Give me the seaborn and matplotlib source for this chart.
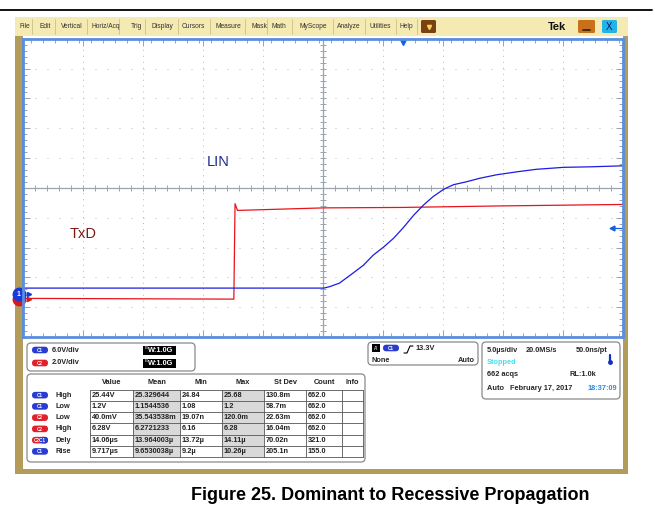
import numpy as np
import pandas as pd
import matplotlib
matplotlib.use('Agg')
import matplotlib.pyplot as plt
from matplotlib.patches import Rectangle, FancyBboxPatch
from matplotlib.ticker import FixedLocator, MultipleLocator
import seaborn as sns

# LIN bus (ch1) and TxD (ch2), time in us relative to the trigger, volts
lin_time = [-31.6, -6.6, -6.1, -5.3, -4.4, -3.3, -2.5, -1.6, -0.8, 0.0, 0.9, 1.7,
            2.5, 3.4, 4.2, 5.3, 6.4, 7.8, 9.5, 11.1, 13.4, 15.6, 18.3]
lin_volt = [1.2, 1.2, 1.5, 2.2, 3.8, 5.8, 7.8, 9.5, 11.2, 13.3, 15.9, 17.9,
            19.6, 21.1, 22.0, 22.6, 23.3, 24.0, 24.6, 25.1, 25.5, 25.6, 25.8]
txd_time = [-31.6, -14.1, -14.0, -13.8, -6.6, 0.0, 8.0, 18.3]
txd_volt = [0.05, 0.0, 6.4, 5.95, 6.12, 6.15, 6.25, 6.35]

# scope settings
ch1_scale = 6.0      # V/div
ch2_scale = 2.0
ch1_offset = -3.56   # div
ch2_offset = -3.73
time_div = 5.0       # us/div
trig_pos = 6.67      # us right of screen centre
trig_level = 13.3    # V

# measurement table
meas_src = ['C1', 'C1', 'C2', 'C2', 'C2C1', 'C1']
meas_name = ['High', 'Low', 'Low', 'High', 'Dely', 'Rise']
meas_value = ['25.44V', '1.2V', '40.0mV', '6.28V', '14.06µs', '9.717µs']
meas_mean = ['25.329644', '1.1544536', '35.543538m', '6.2721233', '13.964003µ', '9.6530038µ']
meas_min = ['24.84', '1.08', '19.07n', '6.16', '13.72µ', '9.2µ']
meas_max = ['25.68', '1.2', '120.0m', '6.28', '14.11µ', '10.26µ']
meas_std = ['130.8m', '58.7m', '22.63m', '16.04m', '70.02n', '205.1n']
meas_count = ['662.0', '662.0', '662.0', '662.0', '321.0', '155.0']
headers = ['Value', 'Mean', 'Min', 'Max', 'St Dev', 'Count', 'Info']

menu_items = ['File', 'Edit', 'Vertical', 'Horiz/Acq', 'Trig', 'Display', 'Cursors',
              'Measure', 'Mask', 'Math', 'MyScope', 'Analyze', 'Utilities', 'Help']

sns.set_style('white')
plt.rcParams['font.family'] = ['Liberation Sans', 'DejaVu Sans']
plt.rcParams['lines.scale_dashes'] = False

fig = plt.figure(figsize=(6.55, 5.19), dpi=100)

# background canvas in pixel units
bg = fig.add_axes([0, 0, 1, 1])
bg.set_xlim(0, 655)
bg.set_ylim(519, 0)
bg.axis('off')

BLUE = '#2a3cd0'
RED = '#e0202a'

bg.plot([0, 652], [10, 10], color='black', lw=1.3)
bg.add_patch(Rectangle((15, 17), 613, 457, fc='#b39b5a', ec='none'))
bg.add_patch(Rectangle((23, 36), 600, 433, fc='white', ec='none'))
bg.add_patch(Rectangle((15, 17), 613, 19, fc='#f4eab2', ec='none'))

# menu bar
menu_x = [19, 40, 61, 92, 131, 151, 182, 215, 251, 272, 299, 337, 369, 400]
menu_sep = [32, 55, 87, 119, 145, 178, 210, 245, 267, 292, 333, 365, 396, 417]
for lab, x in zip(menu_items, menu_x):
    bg.text(x, 27, lab, fontsize=4.8, color='#333333', va='center', ha='left')
for x in menu_sep:
    bg.plot([x, x], [19, 34], color='#cbbf8c', lw=0.6)
bg.add_patch(FancyBboxPatch((421, 20), 15, 13, boxstyle='round,pad=0,rounding_size=1.5',
                            fc='#7a4010', ec='none'))
bg.plot(428.5, 27, marker='v', color='#f4d060', ms=3)
bg.text(557, 27, 'Tek', fontsize=8, fontweight='bold', color='#111111', ha='center', va='center')
bg.add_patch(FancyBboxPatch((578, 20), 17, 13, boxstyle='round,pad=0,rounding_size=1.5',
                            fc='#c8701a', ec='none'))
bg.plot([583, 590], [30, 30], color='#3a1c00', lw=1.2)
bg.add_patch(FancyBboxPatch((602, 20), 15, 13, boxstyle='round,pad=0,rounding_size=1.5',
                            fc='#22b4e8', ec='none'))
bg.text(609.5, 27.5, 'X', fontsize=7, color='#0a1a60', ha='center', va='center')


def badge(x, y, text, color, color2=None):
    bg.add_patch(FancyBboxPatch((x - 8, y - 3.3), 16, 6.6,
                                boxstyle='round,pad=0,rounding_size=3.3', fc=color, ec='none'))
    if color2 is not None:
        bg.add_patch(FancyBboxPatch((x, y - 3.3), 8, 6.6,
                                    boxstyle='round,pad=0,rounding_size=3.3', fc=color2, ec='none'))
        bg.add_patch(Rectangle((x, y - 3.3), 3, 6.6, fc=color2, ec='none'))
    bg.text(x, y + 0.2, text, fontsize=3.3, color='white', fontweight='bold',
            ha='center', va='center')


def box(x0, y0, x1, y1):
    bg.add_patch(FancyBboxPatch((x0, y0), x1 - x0, y1 - y0,
                                boxstyle='round,pad=0,rounding_size=4',
                                fc='white', ec='#8a8a8a', lw=0.9))


tsize = 5.3
# channel box
box(27, 343, 195, 371)
for y, lab, col, sc in [(350, 'C1', BLUE, ch1_scale), (363, 'C2', RED, ch2_scale)]:
    badge(40, y, lab, col)
    bg.text(52, y, f'{sc:.1f}V/div', fontsize=tsize, fontweight='bold', va='center')
    bg.add_patch(Rectangle((143, y - 4.5), 33, 9, fc='black', ec='none'))
    bg.text(145, y - 1.8, 'B', fontsize=3.2, color='white', va='center')
    bg.text(148, y + 0.5, 'W:1.0G', fontsize=tsize, color='white', fontweight='bold', va='center')

# measurement table
box(27, 374, 365, 462)
col_edges = [90, 133, 180, 222, 264, 306, 342, 363]
row_edges = [389.5, 400.8, 412, 423.3, 434.5, 445.8, 457]
for i, h in enumerate(headers):
    bg.text((col_edges[i] + col_edges[i + 1]) / 2, 383, h, fontsize=tsize,
            fontweight='bold', ha='center', va='center', color='#222222')
for c in (1, 3):
    bg.add_patch(Rectangle((col_edges[c], row_edges[0]), col_edges[c + 1] - col_edges[c],
                           row_edges[-1] - row_edges[0], fc='#d9d9d9', ec='none'))
for x in col_edges:
    bg.plot([x, x], [row_edges[0], row_edges[-1]], color='#555555', lw=0.6)
for y in row_edges:
    bg.plot([col_edges[0], col_edges[-1]], [y, y], color='#555555', lw=0.6)
cols = [meas_value, meas_mean, meas_min, meas_max, meas_std, meas_count]
for r in range(6):
    yc = (row_edges[r] + row_edges[r + 1]) / 2
    src = meas_src[r]
    if src == 'C2C1':
        badge(40, yc, 'C2C1', RED, BLUE)
    else:
        badge(40, yc, src, BLUE if src == 'C1' else RED)
    bg.text(55, yc, meas_name[r], fontsize=tsize, fontweight='bold', va='center')
    for c, vals in enumerate(cols):
        bg.text(col_edges[c] + 1.5, yc, vals[r], fontsize=tsize, fontweight='bold',
                va='center', color='#222222')

# trigger box
box(368, 342, 478, 365)
bg.add_patch(Rectangle((372, 344), 8, 8, fc='black', ec='none'))
bg.text(376, 348.3, "A'", fontsize=3.5, color='white', ha='center', va='center')
badge(391, 348, 'C1', BLUE)
bg.plot([404, 407, 410, 413], [353, 353, 346, 346], color='black', lw=0.8)
bg.text(415, 348, f'{trig_level}V', fontsize=tsize, fontweight='bold', va='center')
bg.text(372, 360, 'None', fontsize=tsize, fontweight='bold', va='center')
bg.text(475, 360, 'Auto', fontsize=tsize, fontweight='bold', va='center', ha='right')

# horizontal box
box(482, 342, 620, 399)
bg.text(487, 350, f'{time_div:.1f}µs/div', fontsize=tsize, fontweight='bold', va='center')
bg.text(526, 350, '20.0MS/s', fontsize=tsize, fontweight='bold', va='center')
bg.text(576, 350, '50.0ns/pt', fontsize=tsize, fontweight='bold', va='center')
bg.text(487, 363, 'Stopped', fontsize=tsize, fontweight='bold', va='center', color='#40e0f0')
bg.plot([610, 610], [355, 362], color='#1030c0', lw=1.6)
bg.plot(610, 362, marker='o', ms=2.5, color='#1030c0')
bg.text(487, 375, '662 acqs', fontsize=tsize, fontweight='bold', va='center')
bg.text(570, 375, 'RL:1.0k', fontsize=tsize, fontweight='bold', va='center')
bg.text(487, 388, 'Auto   February 17, 2017', fontsize=tsize, fontweight='bold', va='center')
bg.text(587, 388, '18:37:09', fontsize=tsize, fontweight='bold', va='center', color='#2a8ae0')

fig.text(390 / 655, 1 - 495 / 519, 'Figure 25. Dominant to Recessive Propagation',
         fontsize=13, fontweight='bold', ha='center', va='center', color='black')

# scope graticule
ax = fig.add_axes([23 / 655, 1 - 337 / 519, 600 / 655, 298.2 / 519])
ax.set_facecolor('white')
xc = -trig_pos
ax.set_xlim(xc - 5 * time_div, xc + 5 * time_div)
ax.set_ylim(-5, 5)

gcol = '#b8b8b8'
for k in range(-4, 5):
    if k == 0:
        continue
    ax.axvline(xc + k * time_div, color=gcol, lw=0.7, ls=(0, (0.7, 3.6)), zorder=0)
    ax.axhline(k, color=gcol, lw=0.7, ls=(0, (0.7, 7.94)), zorder=0)
ccol = '#9aa3b0'
ax.axvline(xc, color=ccol, lw=0.9, zorder=0)
ax.axhline(0, color=ccol, lw=0.9, zorder=0)
ax.plot(xc + np.arange(-25, 26, 1.0), np.zeros(51), ls='none', marker='|', ms=4.5,
        mew=0.7, color=ccol, zorder=0)
ax.plot(np.full(51, xc), np.arange(-5, 5.01, 0.2), ls='none', marker='_', ms=4.5,
        mew=0.7, color=ccol, zorder=0)

ax.xaxis.set_major_locator(FixedLocator([xc + k * time_div for k in range(-5, 6)]))
ax.xaxis.set_minor_locator(MultipleLocator(1.0))
ax.yaxis.set_major_locator(MultipleLocator(1.0))
ax.yaxis.set_minor_locator(MultipleLocator(0.2))
ax.tick_params(which='both', direction='in', top=True, right=True, bottom=True, left=True,
               labelleft=False, labelbottom=False, color=ccol, width=0.7)
ax.tick_params(which='major', length=5)
ax.tick_params(which='minor', length=3)
for s in ax.spines.values():
    s.set_color('#5a8ee0')
    s.set_linewidth(2)

lin = pd.DataFrame({'t': lin_time, 'div': np.array(lin_volt) / ch1_scale + ch1_offset})
txd = pd.DataFrame({'t': txd_time, 'div': np.array(txd_volt) / ch2_scale + ch2_offset})
sns.lineplot(data=txd, x='t', y='div', ax=ax, color='#e8141c', lw=0.9,
             estimator=None, sort=False)
sns.lineplot(data=lin, x='t', y='div', ax=ax, color='#1c1ce0', lw=0.9,
             estimator=None, sort=False)
ax.set_xlabel('')
ax.set_ylabel('')

ax.text(-15.4, 0.87, 'LIN', fontsize=10.5, color='#1e2c8c', ha='center', va='center')
ax.text(-26.7, -1.55, 'TxD', fontsize=10.5, color='#7a1616', ha='center', va='center')

# markers: trigger position, trigger level, channel grounds
left = xc - 5 * time_div
right = xc + 5 * time_div
ax.plot(0, 4.88, marker='v', ms=5, color='#1560e0', clip_on=False)
lvl = trig_level / ch1_scale + ch1_offset
ax.plot([right - 0.9, right - 0.1], [lvl, lvl], color='#1560e0', lw=0.9)
ax.plot(right - 0.9, lvl, marker='<', ms=3.5, color='#1560e0')
ax.plot(left - 0.35, ch2_offset, marker='o', ms=9, color='#d8181c', clip_on=False)
ax.plot(left + 0.5, ch2_offset, marker='>', ms=3, color='#d8181c')
ax.plot(left - 0.35, ch1_offset, marker='o', ms=9, color='#1838d8', clip_on=False)
ax.text(left - 0.35, ch1_offset, '1', fontsize=5, color='white', ha='center',
        va='center', fontweight='bold')
ax.plot(left + 0.5, ch1_offset, marker='>', ms=3, color='#1838d8')

fig.savefig('out.png', dpi=100)
